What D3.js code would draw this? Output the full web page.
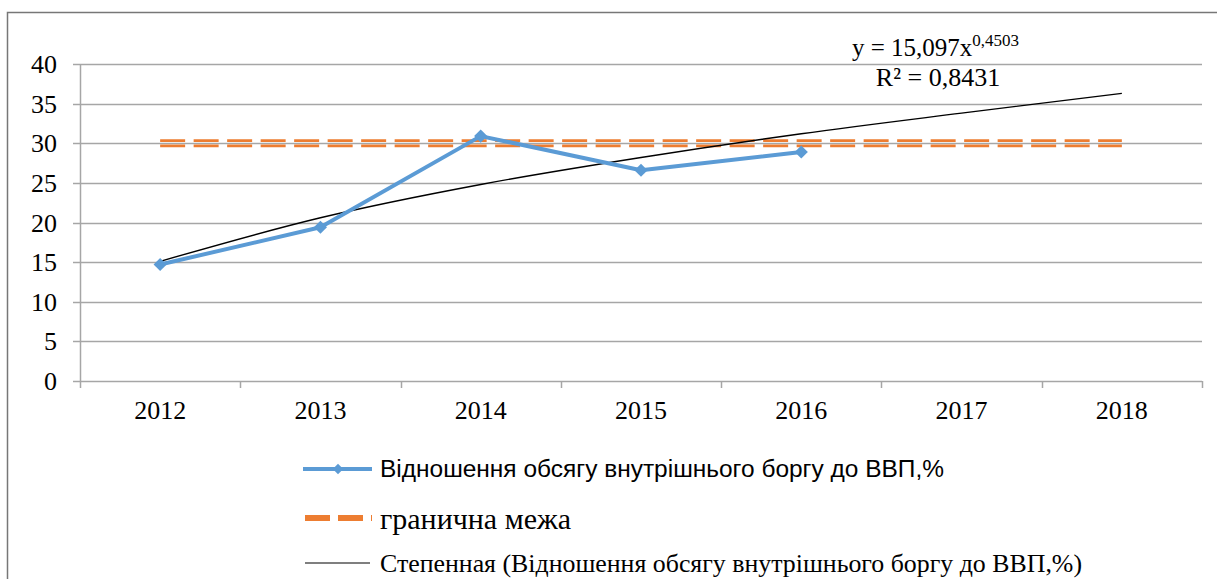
<!DOCTYPE html>
<html>
<head>
<meta charset="utf-8">
<script src="https://cdn.jsdelivr.net/npm/d3@7"></script>
<style>
  body { margin: 0; background: #fff; }
  text { font-family: "Liberation Serif", "Times New Roman", serif; fill: #000; }
</style>
</head>
<body>
<div id="chart"></div>
<script>
const years = ["2012", "2013", "2014", "2015", "2016", "2017", "2018"];
const debtRatio = [14.7, 19.4, 30.9, 26.6, 28.9];
const limitValue = 30;
// power trend values at each year
const trendValues = [15.1, 20.6, 24.8, 28.2, 31.2, 33.8, 36.3];
const yTicks = [0, 5, 10, 15, 20, 25, 30, 35, 40];
const legendLabels = [
  "Відношення обсягу внутрішнього боргу до ВВП,%",
  "гранична межа",
  "Степенная (Відношення обсягу внутрішнього боргу до ВВП,%)"
];

const width = 1217, height = 579;
const svg = d3.select("#chart").append("svg")
  .attr("width", width)
  .attr("height", height);

// outer frame (runs off right and bottom)
svg.append("path")
  .attr("d", "M7.5," + (height + 5) + " V12.5 H" + (width + 5))
  .attr("fill", "none")
  .attr("stroke", "#777")
  .attr("stroke-width", 1.5);

const plotLeft = 80, plotRight = 1202, plotTop = 64, plotBottom = 381;

const x = d3.scaleBand().domain(years).range([plotLeft, plotRight]);
const y = d3.scaleLinear().domain([0, 40]).range([plotBottom, plotTop]);
const cx = d => x(d) + x.bandwidth() / 2;

// grid
svg.append("g")
  .selectAll("line")
  .data(yTicks)
  .enter().append("line")
  .attr("x1", plotLeft - 7)
  .attr("x2", plotRight)
  .attr("y1", d => Math.round(y(d)) + 0.5)
  .attr("y2", d => Math.round(y(d)) + 0.5)
  .attr("stroke", "#a6a6a6")
  .attr("stroke-width", 1.5);

// y axis line
svg.append("line")
  .attr("x1", plotLeft + 0.5).attr("x2", plotLeft + 0.5)
  .attr("y1", plotTop).attr("y2", plotBottom)
  .attr("stroke", "#a6a6a6").attr("stroke-width", 1.5);

// y tick labels
svg.append("g")
  .selectAll("text")
  .data(yTicks)
  .enter().append("text")
  .attr("x", 57)
  .attr("y", d => y(d))
  .attr("dy", "0.35em")
  .attr("text-anchor", "end")
  .style("font-size", "26px")
  .text(d => d);

// x tick marks at band edges
const edges = years.map(d => x(d)).concat([plotRight]);
svg.append("g")
  .selectAll("line")
  .data(edges)
  .enter().append("line")
  .attr("x1", d => Math.round(d) + 0.5)
  .attr("x2", d => Math.round(d) + 0.5)
  .attr("y1", plotBottom)
  .attr("y2", plotBottom + 7)
  .attr("stroke", "#a6a6a6").attr("stroke-width", 1.5);

svg.append("g")
  .selectAll("text")
  .data(years)
  .enter().append("text")
  .attr("x", d => cx(d))
  .attr("y", 419)
  .attr("text-anchor", "middle")
  .style("font-size", "26px")
  .text(d => d);

// limit line: double dashed orange
const limitY = y(limitValue);
[-2.6, 2.6].forEach(off => {
  svg.append("line")
    .attr("x1", cx(years[0]))
    .attr("x2", cx(years[years.length - 1]))
    .attr("y1", limitY + off)
    .attr("y2", limitY + off)
    .attr("stroke", "#ed7d31")
    .attr("stroke-width", 2.6)
    .attr("stroke-dasharray", "25,8.5");
});

// trend line
const trendLine = d3.line()
  .x((d, i) => cx(years[i]))
  .y(d => y(d))
  .curve(d3.curveMonotoneX);
svg.append("path")
  .datum(trendValues)
  .attr("d", trendLine)
  .attr("fill", "none")
  .attr("stroke", "#000")
  .attr("stroke-width", 1.4);

// main series
const seriesLine = d3.line()
  .x((d, i) => cx(years[i]))
  .y(d => y(d));
svg.append("path")
  .datum(debtRatio)
  .attr("d", seriesLine)
  .attr("fill", "none")
  .attr("stroke", "#5b9bd5")
  .attr("stroke-width", 4)
  .attr("stroke-linejoin", "round");

const diamond = d3.symbol().type(d3.symbolDiamond2).size(110);
svg.append("g")
  .selectAll("path")
  .data(debtRatio)
  .enter().append("path")
  .attr("d", diamond)
  .attr("transform", (d, i) => "translate(" + cx(years[i]) + "," + y(d) + ")")
  .attr("fill", "#5b9bd5");

// trend equation
const eq = svg.append("text")
  .attr("x", 852)
  .attr("y", 56)
  .style("font-size", "25px");
eq.append("tspan").text("y = 15,097x");
eq.append("tspan").attr("dy", -10).style("font-size", "17px").text("0,4503");
svg.append("text")
  .attr("x", 938)
  .attr("y", 86)
  .attr("text-anchor", "middle")
  .style("font-size", "26px")
  .text("R² = 0,8431");

// legend
const legendRows = [469, 518, 563];
const legendFonts = [
  { family: "'Liberation Sans', Arial, sans-serif", size: 23.5, len: 564 },
  { family: "'Liberation Serif', serif", size: 30, len: 191 },
  { family: "'Liberation Serif', serif", size: 26, len: 702 }
];
const lg = svg.append("g");
// row 1
lg.append("line")
  .attr("x1", 303).attr("x2", 372)
  .attr("y1", legendRows[0]).attr("y2", legendRows[0])
  .attr("stroke", "#5b9bd5").attr("stroke-width", 4);
lg.append("path")
  .attr("d", d3.symbol().type(d3.symbolDiamond2).size(70))
  .attr("transform", "translate(338," + legendRows[0] + ")")
  .attr("fill", "#5b9bd5");
// row 2
lg.append("line")
  .attr("x1", 305).attr("x2", 372)
  .attr("y1", legendRows[1]).attr("y2", legendRows[1])
  .attr("stroke", "#ed7d31").attr("stroke-width", 6)
  .attr("stroke-dasharray", "25,8");
// row 3
lg.append("line")
  .attr("x1", 305).attr("x2", 370)
  .attr("y1", legendRows[2]).attr("y2", legendRows[2])
  .attr("stroke", "#555").attr("stroke-width", 1.5);

lg.selectAll("text")
  .data(legendLabels)
  .enter().append("text")
  .attr("x", 380)
  .attr("y", (d, i) => legendRows[i])
  .attr("dy", "0.35em")
  .style("font-family", (d, i) => legendFonts[i].family)
  .style("font-size", (d, i) => legendFonts[i].size + "px")
  .attr("textLength", (d, i) => legendFonts[i].len)
  .attr("lengthAdjust", "spacingAndGlyphs")
  .text(d => d);
</script>
</body>
</html>
